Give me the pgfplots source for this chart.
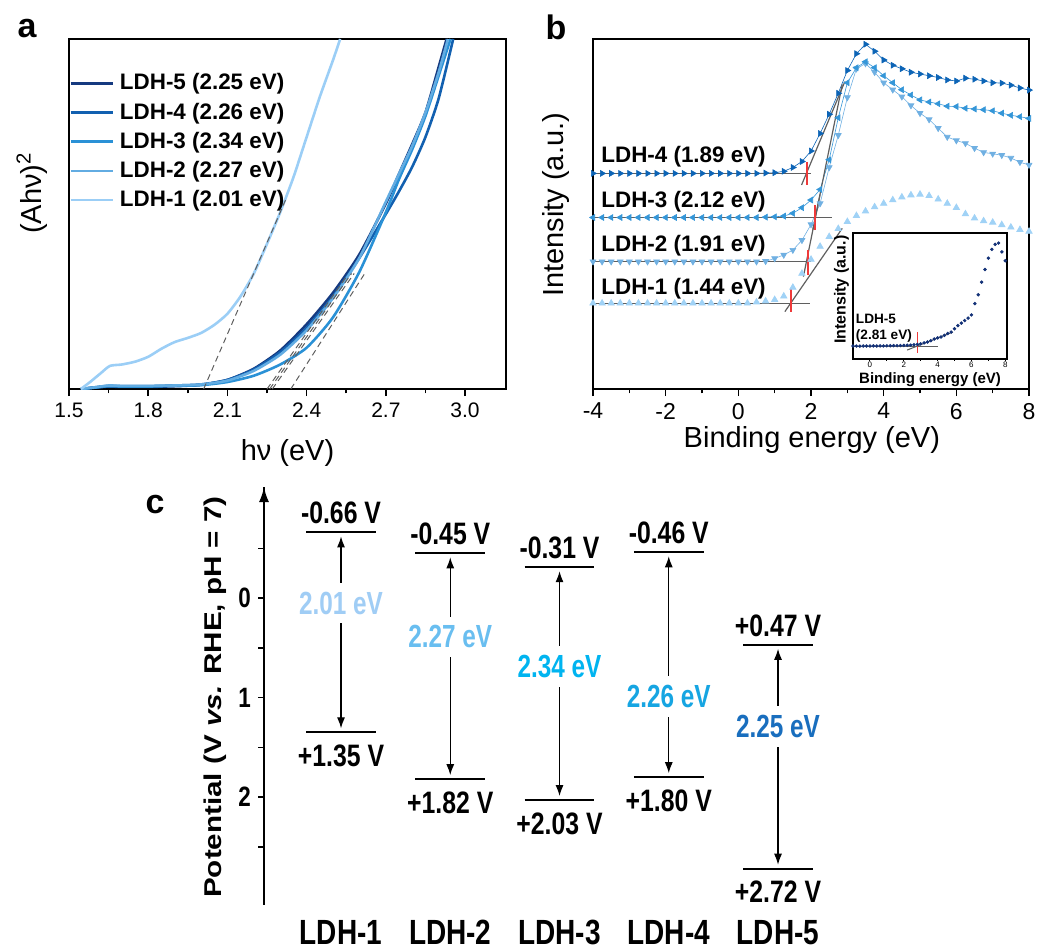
\documentclass[border=0pt]{standalone}
\usepackage{fontspec}
\setmainfont{Liberation Sans}
\newfontfamily\narrowfont[FakeStretch=0.8]{Liberation Sans}
\newfontfamily\narrowerfont[FakeStretch=0.76]{Liberation Sans}
\usepackage{graphicx}
\usepackage{pgfplots}
\pgfplotsset{compat=1.18}
\usepackage{pgfplotstable}
\usetikzlibrary{arrows.meta}

\definecolor{aF}{RGB}{22,58,128}
\definecolor{aD}{RGB}{18,96,176}
\definecolor{aC}{RGB}{42,145,214}
\definecolor{aB}{RGB}{98,172,226}
\definecolor{aA}{RGB}{155,206,246}
\definecolor{bD}{RGB}{12,100,182}
\definecolor{bC}{RGB}{52,150,216}
\definecolor{bB}{RGB}{112,176,226}
\definecolor{bA}{RGB}{160,210,246}
\definecolor{inset}{RGB}{20,50,120}
\definecolor{redt}{RGB}{238,58,58}
\definecolor{grayt}{RGB}{95,95,95}
\definecolor{cA}{RGB}{160,205,245}
\definecolor{cB}{RGB}{105,190,240}
\definecolor{cC}{RGB}{0,180,240}
\definecolor{cD}{RGB}{22,165,226}
\definecolor{cE}{RGB}{25,110,190}

\pgfplotstableread{
x l4 l3 l2 l1
-4.00 61.6 49.0 36.4 24.5
-3.75 61.6 49.0 36.4 24.5
-3.50 61.6 49.0 36.4 24.5
-3.25 61.6 49.0 36.4 24.5
-3.00 61.6 49.0 36.4 24.5
-2.75 61.6 49.0 36.4 24.5
-2.50 61.6 49.0 36.4 24.5
-2.25 61.6 49.0 36.4 24.5
-2.00 61.6 49.0 36.4 24.5
-1.75 61.6 49.0 36.4 24.5
-1.50 61.6 49.0 36.4 24.5
-1.25 61.6 49.0 36.4 24.5
-1.00 61.6 49.0 36.4 24.5
-0.75 61.6 49.0 36.4 24.5
-0.50 61.6 49.0 36.4 24.5
-0.25 61.6 49.0 36.4 24.5
0.00 61.6 49.0 36.4 24.5
0.25 61.6 49.0 36.4 24.5
0.50 61.6 49.0 36.4 24.8
0.75 61.7 49.1 36.5 25.1
1.00 61.8 49.2 37.3 25.5
1.25 62.2 49.4 38.3 26.5
1.50 63.3 50.2 39.7 29.0
1.75 65.0 51.8 42.5 33.0
2.00 68.0 54.0 47.0 37.0
2.25 73.0 57.0 53.0 40.7
2.50 78.5 65.5 63.3 43.5
2.75 84.5 77.5 72.5 45.8
3.00 91.0 87.5 83.3 47.8
3.25 95.8 91.8 91.5 49.5
3.50 98.5 93.5 93.0 50.8
3.75 96.5 91.8 90.5 52.0
4.00 94.0 89.5 87.5 53.0
4.25 92.5 87.5 85.5 54.0
4.50 91.5 85.5 83.5 54.8
4.75 90.5 84.0 81.0 55.4
5.00 90.0 82.6 78.8 55.6
5.25 89.5 82.0 77.0 55.2
5.50 89.0 81.5 74.5 54.2
5.75 88.3 80.8 72.0 53.0
6.00 88.0 80.7 71.0 51.8
6.25 88.8 80.2 70.2 50.0
6.50 88.5 80.0 68.8 48.8
6.75 88.0 79.8 67.6 48.0
7.00 87.5 79.5 67.2 47.6
7.25 87.4 78.8 66.8 46.9
7.50 86.8 78.2 66.0 46.2
7.75 86.0 77.8 64.8 45.5
8.00 85.4 77.3 64.0 45.0
}\bdata

\pgfplotstableread{
x y
-1.0 10.3
-0.8 10.3
-0.6 10.2
-0.4 10.3
-0.2 10.3
0.0 10.3
0.2 10.4
0.4 10.3
0.6 10.4
0.8 10.4
1.0 10.5
1.2 10.5
1.4 10.6
1.6 10.6
1.8 10.7
2.0 10.8
2.2 10.9
2.4 11.0
2.6 11.3
2.8 11.6
3.0 12.0
3.2 12.8
3.4 13.5
3.6 14.5
3.8 15.8
4.0 16.7
4.2 17.5
4.4 18.8
4.6 20.2
4.8 21.4
5.0 24.0
5.2 26.5
5.4 28.5
5.6 30.5
5.8 32.5
6.0 35.0
6.2 44.0
6.4 51.0
6.6 61.0
6.8 71.0
7.0 80.0
7.2 87.0
7.4 91.0
7.6 92.0
7.8 85.0
8.0 78.0
}\insetdata

\begin{document}
\begin{tikzpicture}
\useasboundingbox (0,0) rectangle (518.5pt,474.5pt);

% ---------------- panel a ----------------
\begin{axis}[
  at={(34.5pt,280pt)}, anchor=south west, scale only axis,
  width=218.5pt, height=175pt,
  xmin=1.5, xmax=3.155, ymin=0, ymax=100,
  xtick={1.5,1.8,2.1,2.4,2.7,3.0}, minor x tick num=1, ytick=\empty,
  xtick pos=left, tick align=outside,
  major tick length=3.5pt, minor tick length=2.2pt,
  axis line style={line width=1pt},
  every tick/.style={black, line width=0.8pt},
  xticklabel style={font=\fontsize{10.5}{12}\selectfont,
    /pgf/number format/.cd, fixed, fixed zerofill, precision=1, assume math mode=true},
  xlabel={hν (eV)},
  xlabel style={font=\fontsize{14.5}{16}\selectfont, at={(axis description cs:0.5,-0.183)}, anchor=center},
  ylabel={(Ahν)\textsuperscript{2}},
  ylabel style={font=\fontsize{14.5}{16}\selectfont, at={(axis description cs:-0.085,0.56)}, anchor=center},
  legend style={at={(axis description cs:0.0,0.905)}, anchor=north west, draw=none, fill=none,
    inner sep=0pt, row sep=4pt, font=\bfseries\fontsize{11.2}{13}\selectfont,
    nodes={inner sep=0.5pt},
    /tikz/every odd column/.append style={column sep=2.5pt}},
  legend cell align=left,
  legend image code/.code={\draw[#1, line width=1.3pt] (0pt,0pt) -- (21pt,0pt);},
]
\addplot[aF, line width=1.3pt, smooth, tension=0.4] coordinates {
 (1.545,0) (1.6,0.4) (1.65,0.7) (1.7,0.6) (1.8,0.6) (1.9,0.8) (2.0,1.2) (2.1,2.6) (2.2,5.8)
 (2.3,11) (2.4,18.5) (2.5,27.5) (2.6,38.5) (2.7,53) (2.75,61.5) (2.8,70) (2.85,79) (2.9,92) (2.93,100)};
\addlegendentry{LDH-5 (2.25 eV)}
\addplot[aD, line width=1.3pt, smooth, tension=0.4] coordinates {
 (1.545,0) (1.6,0.5) (1.65,0.9) (1.7,0.8) (1.8,0.8) (1.9,1.0) (2.0,1.3) (2.1,2.6) (2.2,5.6)
 (2.3,10.5) (2.4,17.5) (2.5,26.5) (2.6,37.5) (2.7,50) (2.75,56.5) (2.8,63.5) (2.85,72) (2.9,83) (2.955,100)};
\addlegendentry{LDH-4 (2.26 eV)}
\addplot[aC, line width=1.3pt, smooth, tension=0.4] coordinates {
 (1.545,0) (1.6,0.4) (1.65,0.8) (1.7,0.7) (1.8,0.7) (1.9,0.9) (2.0,1.1) (2.1,2.0) (2.2,3.8)
 (2.3,7.0) (2.4,11.8) (2.5,20.5) (2.6,33.5) (2.7,50.5) (2.75,60) (2.8,68.5) (2.85,78) (2.9,89.5) (2.945,100)};
\addlegendentry{LDH-3 (2.34 eV)}
\addplot[aB, line width=1.3pt, smooth, tension=0.4] coordinates {
 (1.545,0) (1.6,0.5) (1.65,1.0) (1.7,0.9) (1.8,0.9) (1.9,1.0) (2.0,1.3) (2.1,2.4) (2.2,5.2)
 (2.3,9.8) (2.4,16.8) (2.5,26) (2.6,37.5) (2.7,53.5) (2.75,61.5) (2.8,69.5) (2.85,79) (2.9,90.5) (2.935,100)};
\addlegendentry{LDH-2 (2.27 eV)}
\addplot[aA, line width=1.3pt, smooth, tension=0.4] coordinates {
 (1.545,0) (1.58,2) (1.62,4.5) (1.655,6.6) (1.7,7.0) (1.75,7.8) (1.8,9.2) (1.85,11.5) (1.9,13.4)
 (1.95,14.6) (2.0,16.0) (2.05,18.3) (2.1,21.5) (2.15,26.5) (2.2,33) (2.25,41.5) (2.3,50.5)
 (2.35,60.5) (2.4,72) (2.45,83.5) (2.5,94) (2.527,100)};
\addlegendentry{LDH-1 (2.01 eV)}
% tangent lines
\addplot[forget plot, grayt, densely dashed, line width=0.5pt] coordinates {(2.01,0) (2.32,54)};
\addplot[forget plot, grayt, densely dashed, line width=0.5pt] coordinates {(2.25,0) (2.55,32)};
\addplot[forget plot, grayt, densely dashed, line width=0.5pt] coordinates {(2.26,0) (2.57,33)};
\addplot[forget plot, grayt, densely dashed, line width=0.5pt] coordinates {(2.27,0) (2.58,33)};
\addplot[forget plot, grayt, densely dashed, line width=0.5pt] coordinates {(2.34,0) (2.62,33)};
\end{axis}

% ---------------- panel b ----------------
\begin{axis}[
  at={(296.5pt,280pt)}, anchor=south west, scale only axis,
  width=218pt, height=175pt,
  xmin=-4, xmax=8, ymin=0, ymax=100,
  xtick={-4,-2,0,2,4,6,8}, minor x tick num=1, ytick=\empty,
  xtick pos=left, tick align=outside,
  major tick length=3.5pt, minor tick length=2.2pt,
  axis line style={line width=1pt},
  every tick/.style={black, line width=0.8pt},
  xticklabel style={font=\fontsize{11.5}{13}\selectfont, /pgf/number format/assume math mode=true},
  xlabel={Binding energy (eV)},
  xlabel style={font=\fontsize{14.5}{16}\selectfont, at={(axis description cs:0.502,-0.146)}, anchor=center},
  ylabel={Intensity (a.u.)},
  ylabel style={font=\fontsize{14.5}{16}\selectfont, at={(axis description cs:-0.084,0.526)}, anchor=center},
]
\addplot[only marks, mark=triangle*, mark size=1.8pt, bA, mark options={draw=bA, fill=bA}] table[x=x, y=l1] {\bdata};
\addplot[bB, line width=0.3pt, mark=triangle*, mark size=1.7pt, mark options={draw=bB, fill=bB, rotate=180}] table[x=x, y=l2] {\bdata};
\addplot[bC, line width=0.3pt, mark=triangle*, mark size=1.7pt, mark options={draw=bC, fill=bC, rotate=90}] table[x=x, y=l3] {\bdata};
\addplot[bD, line width=0.3pt, mark=triangle*, mark size=1.7pt, mark options={draw=bD, fill=bD, rotate=-90}] table[x=x, y=l4] {\bdata};
% baselines and tangents
\addplot[grayt, line width=0.6pt] coordinates {(-4,61.6) (2.0,61.6)};
\addplot[grayt, line width=0.6pt] coordinates {(1.74,58.3) (2.93,87.8)};
\addplot[grayt, line width=0.6pt] coordinates {(-4,49.0) (2.57,49.0)};
\addplot[grayt, line width=0.6pt] coordinates {(2.05,45.5) (2.86,87.0)};
\addplot[grayt, line width=0.6pt] coordinates {(-4,36.4) (2.0,36.4)};
\addplot[grayt, line width=0.6pt] coordinates {(1.79,32.1) (2.25,55.6)};
\addplot[grayt, line width=0.6pt] coordinates {(-4,24.5) (1.97,24.5)};
\addplot[grayt, line width=0.6pt] coordinates {(1.28,22.1) (2.86,45.9)};
% red onset marks
\addplot[redt, line width=1pt] coordinates {(1.89,58.3) (1.89,64.9)};
\addplot[redt, line width=1pt] coordinates {(2.12,45.4) (2.12,52.6)};
\addplot[redt, line width=1pt] coordinates {(1.91,32.6) (1.91,39.7)};
\addplot[redt, line width=1pt] coordinates {(1.44,22.1) (1.44,28.9)};
\node[anchor=west, inner sep=0pt, font=\bfseries\fontsize{11.2}{13}\selectfont] at (axis cs:-3.78,66.3) {LDH-4 (1.89 eV)};
\node[anchor=west, inner sep=0pt, font=\bfseries\fontsize{11.2}{13}\selectfont] at (axis cs:-3.78,53.4) {LDH-3 (2.12 eV)};
\node[anchor=west, inner sep=0pt, font=\bfseries\fontsize{11.2}{13}\selectfont] at (axis cs:-3.78,40.9) {LDH-2 (1.91 eV)};
\node[anchor=west, inner sep=0pt, font=\bfseries\fontsize{11.2}{13}\selectfont] at (axis cs:-3.78,28.6) {LDH-1 (1.44 eV)};
\end{axis}

% ---------------- inset ----------------
\begin{axis}[
  at={(426.5pt,295pt)}, anchor=south west, scale only axis,
  width=77pt, height=63pt,
  xmin=-1, xmax=8.1, ymin=0, ymax=100,
  xtick={0,2,4,6,8}, minor x tick num=1, ytick=\empty,
  xtick pos=left, tick align=outside,
  major tick length=1.2pt, minor tick length=0.9pt,
  axis line style={line width=0.8pt},
  every tick/.style={black, line width=0.5pt},
  axis background/.style={fill=white},
  xticklabel style={font=\fontsize{4}{5}\selectfont, inner sep=0.3pt, /pgf/number format/assume math mode=true},
  xlabel={Binding energy (eV)},
  xlabel style={font=\bfseries\fontsize{7.5}{9}\selectfont, at={(axis description cs:0.5,-0.165)}, anchor=center},
  ylabel={Intensity (a.u.)},
  ylabel style={font=\bfseries\fontsize{8}{9}\selectfont, at={(axis description cs:-0.075,0.55)}, anchor=center},
]
\addplot[only marks, mark=*, mark size=0.65pt, inset] table[x=x, y=y] {\insetdata};
\addplot[grayt, line width=0.5pt] coordinates {(-1,10.3) (4.0,10.3)};
\addplot[grayt, line width=0.5pt] coordinates {(2.2,7.1) (4.9,21.4)};
\addplot[redt, line width=0.9pt] coordinates {(2.81,5.0) (2.81,21.7)};
\node[anchor=west, inner sep=0pt, align=left, font=\bfseries\fontsize{6.8}{7.8}\selectfont] at (axis cs:-0.85,24.5) {LDH-5\\(2.81 eV)};
\end{axis}

% ---------------- panel c ----------------
\begin{axis}[
  at={(132pt,22pt)}, anchor=south west, scale only axis,
  width=283pt, height=209pt,
  xmin=0.295, xmax=5.476, ymin=-1.116, ymax=3.085, y dir=reverse,
  axis x line=none, axis y line=left,
  y axis line style={line width=1pt, -},
  ytick={0,1,2}, minor ytick={-0.5,0.5,1.5,2.5},
  tick align=outside, major tick length=3pt, minor tick length=3pt,
  every tick/.style={black, line width=0.8pt},
  yticklabel style={font=\narrowfont\bfseries\fontsize{14}{16}\selectfont, /pgf/number format/assume math mode=true},
  clip=false,
]
\draw[line width=1pt, -{Latex[length=7.5pt,width=5pt]}] (axis cs:0.295,-0.8) -- (axis cs:0.295,-1.116);
% levels
\addplot[black, line width=1.1pt] coordinates {(0.68,-0.66) (1.32,-0.66)};
\addplot[black, line width=1.1pt] coordinates {(0.68,1.35) (1.32,1.35)};
\addplot[black, line width=1.1pt] coordinates {(1.68,-0.45) (2.32,-0.45)};
\addplot[black, line width=1.1pt] coordinates {(1.68,1.82) (2.32,1.82)};
\addplot[black, line width=1.1pt] coordinates {(2.68,-0.31) (3.32,-0.31)};
\addplot[black, line width=1.1pt] coordinates {(2.68,2.03) (3.32,2.03)};
\addplot[black, line width=1.1pt] coordinates {(3.68,-0.46) (4.32,-0.46)};
\addplot[black, line width=1.1pt] coordinates {(3.68,1.80) (4.32,1.80)};
\addplot[black, line width=1.1pt] coordinates {(4.68,0.47) (5.32,0.47)};
\addplot[black, line width=1.1pt] coordinates {(4.68,2.72) (5.32,2.72)};
% arrows
\addplot[black, line width=0.6pt, {Latex[length=5.5pt,width=4pt]}-{Latex[length=5.5pt,width=4pt]}, shorten <=2pt, shorten >=2pt] coordinates {(1,-0.66) (1,1.35)};
\addplot[black, line width=0.6pt, {Latex[length=5.5pt,width=4pt]}-{Latex[length=5.5pt,width=4pt]}, shorten <=2pt, shorten >=2pt] coordinates {(2,-0.45) (2,1.82)};
\addplot[black, line width=0.6pt, {Latex[length=5.5pt,width=4pt]}-{Latex[length=5.5pt,width=4pt]}, shorten <=2pt, shorten >=2pt] coordinates {(3,-0.31) (3,2.03)};
\addplot[black, line width=0.6pt, {Latex[length=5.5pt,width=4pt]}-{Latex[length=5.5pt,width=4pt]}, shorten <=2pt, shorten >=2pt] coordinates {(4,-0.46) (4,1.80)};
\addplot[black, line width=0.6pt, {Latex[length=5.5pt,width=4pt]}-{Latex[length=5.5pt,width=4pt]}, shorten <=2pt, shorten >=2pt] coordinates {(5,0.47) (5,2.72)};
% level labels
\begin{scope}[every node/.style={inner sep=4pt, font=\narrowfont\bfseries\fontsize{15.5}{17}\selectfont}]
\node[anchor=south] at (axis cs:1,-0.66) {-0.66 V};
\node[anchor=north, yshift=-2pt] at (axis cs:1,1.35) {+1.35 V};
\node[anchor=south] at (axis cs:2,-0.45) {-0.45 V};
\node[anchor=north, yshift=-2pt] at (axis cs:2,1.82) {+1.82 V};
\node[anchor=south] at (axis cs:3,-0.31) {-0.31 V};
\node[anchor=north, yshift=-2pt] at (axis cs:3,2.03) {+2.03 V};
\node[anchor=south] at (axis cs:4,-0.46) {-0.46 V};
\node[anchor=north, yshift=-2pt] at (axis cs:4,1.80) {+1.80 V};
\node[anchor=south] at (axis cs:5,0.47) {+0.47 V};
\node[anchor=north, yshift=-2pt] at (axis cs:5,2.72) {+2.72 V};
\end{scope}
\begin{scope}[every node/.style={fill=white, inner xsep=2pt, inner ysep=4.5pt, font=\narrowerfont\bfseries\fontsize{16}{18}\selectfont}]
\node[text=cA] at (axis cs:1,0.05) {2.01 eV};
\node[text=cB] at (axis cs:2,0.39) {2.27 eV};
\node[text=cC] at (axis cs:3,0.69) {2.34 eV};
\node[text=cD] at (axis cs:4,0.99) {2.26 eV};
\node[text=cE] at (axis cs:5,1.29) {2.25 eV};
\end{scope}
\begin{scope}[every node/.style={inner sep=0pt, font=\narrowfont\bfseries\fontsize{17.5}{20}\selectfont}]
\node at (axis cs:1,3.36) {LDH-1};
\node at (axis cs:2,3.36) {LDH-2};
\node at (axis cs:3,3.36) {LDH-3};
\node at (axis cs:4,3.36) {LDH-4};
\node at (axis cs:5,3.36) {LDH-5};
\end{scope}
\end{axis}

\node[rotate=90] at (107.5pt,126pt) {\scalebox{1}[0.82]{\bfseries\fontsize{14.8}{16}\selectfont Potential (V \textit{vs.} RHE, pH = 7)}};

% panel letters
\node[font=\bfseries\fontsize{17}{19}\selectfont] at (13.5pt,460pt) {a};
\node[font=\bfseries\fontsize{17}{19}\selectfont] at (278pt,461pt) {b};
\node[font=\bfseries\fontsize{17}{19}\selectfont] at (77.5pt,222pt) {c};
\end{tikzpicture}
\end{document}
